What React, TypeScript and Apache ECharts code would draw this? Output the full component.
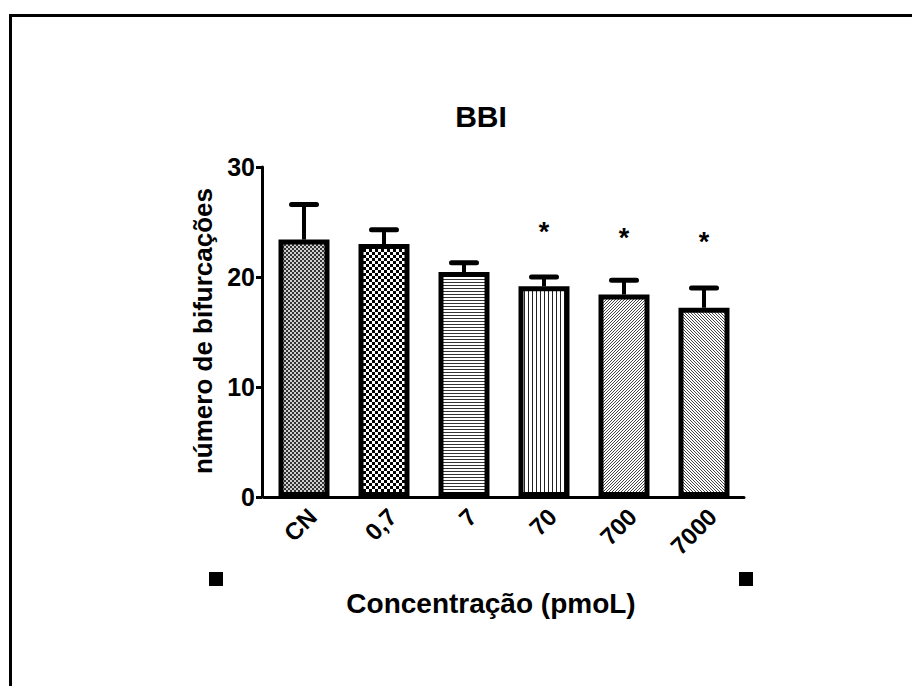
import React, { useEffect, useRef } from "react";
import * as echarts from "echarts";

const categories = ["CN", "0,7", "7", "70", "700", "7000"];
const means = [23.4, 23.0, 20.45, 19.15, 18.4, 17.2];
const errorTops = [26.6, 24.3, 21.3, 20.0, 19.7, 19.0];
const starLevels: (number | null)[] = [null, null, null, 24.4, 23.8, 23.5];
const patternKinds = ["fineChecker", "checker", "hLines", "vLines", "diagUp", "diagDown"];
const yMin = 0;
const yMax = 30;
const yInterval = 10;

const titleText = "BBI";
const yName = "número de bifurcações";
const xName = "Concentração (pmoL)";

function makePattern(kind: string) {
  const sizes: Record<string, number> = {
    fineChecker: 4,
    checker: 6,
    hLines: 3,
    vLines: 4,
    diagUp: 3,
    diagDown: 3,
  };
  const size = sizes[kind];
  const c = document.createElement("canvas");
  c.width = size;
  c.height = size;
  const ctx = c.getContext("2d")!;
  ctx.fillStyle = kind === "fineChecker" ? "#d0d0d0" : "#fff";
  ctx.fillRect(0, 0, size, size);
  for (let x = 0; x < size; x++) {
    for (let y = 0; y < size; y++) {
      let on = false;
      let col = "#000";
      if (kind === "fineChecker") { on = (Math.floor(x / 2) + Math.floor(y / 2)) % 2 === 0; col = "#333"; }
      if (kind === "checker") { on = (Math.floor(x / 3) + Math.floor(y / 3)) % 2 === 0; }
      if (kind === "hLines") { on = y === 0; col = "#333"; }
      if (kind === "vLines") { on = x === 0; col = "#222"; }
      if (kind === "diagUp") { on = (x + y) % size === size - 1; col = "#444"; }
      if (kind === "diagDown") { on = x === y; col = "#444"; }
      if (on) {
        ctx.fillStyle = col;
        ctx.fillRect(x, y, 1, 1);
      }
    }
  }
  return { image: c, repeat: "repeat", imageWidth: size, imageHeight: size } as any;
}

export default function App() {
  const ref = useRef<HTMLDivElement>(null);
  useEffect(() => {
    if (!ref.current) return;
    const chart = echarts.init(ref.current, null, { renderer: "svg" });
    const font = "'Liberation Sans', Arial, sans-serif";
    const barData = means.map((v, i) => ({
      value: v,
      itemStyle: { color: makePattern(patternKinds[i]) },
    }));
    const errData = means.map((v, i) => [i, v, errorTops[i]]);
    const starData: number[][] = [];
    starLevels.forEach((s, i) => {
      if (s !== null) starData.push([i, s]);
    });

    chart.setOption({
      animation: false,
      backgroundColor: "#fff",
      grid: { left: 264, top: 167, width: 480, height: 330, containLabel: false },
      xAxis: {
        type: "category",
        data: categories,
        boundaryGap: true,
        axisLine: { lineStyle: { color: "#000", width: 3 } },
        axisTick: { alignWithLabel: true, length: 9, lineStyle: { color: "#000", width: 3 } },
        axisLabel: {
          rotate: 45,
          margin: 7,
          verticalAlign: "top",
          color: "#000",
          fontSize: 24,
          fontWeight: "bold",
          fontFamily: font,
        },
        splitLine: { show: false },
      },
      yAxis: {
        type: "value",
        min: yMin,
        max: yMax,
        interval: yInterval,
        offset: 2,
        axisLine: { show: true, lineStyle: { color: "#000", width: 3 } },
        axisTick: { show: true, length: 6, lineStyle: { color: "#000", width: 3 } },
        axisLabel: {
          margin: 7,
          color: "#000",
          fontSize: 25,
          fontWeight: "bold",
          fontFamily: font,
        },
        splitLine: { show: false },
      },
      series: [
        {
          type: "custom",
          z: 1,
          data: errData,
          renderItem: (params: any, api: any) => {
            const x = api.value(0);
            const p0 = api.coord([x, api.value(1)]);
            const p1 = api.coord([x, api.value(2)]);
            return {
              type: "group",
              children: [
                {
                  type: "line",
                  shape: { x1: p0[0], y1: p0[1], x2: p1[0], y2: p1[1] },
                  style: { stroke: "#000", lineWidth: 4 },
                },
                {
                  type: "line",
                  shape: { x1: p1[0] - 12.5, y1: p1[1], x2: p1[0] + 12.5, y2: p1[1] },
                  style: { stroke: "#000", lineWidth: 5, lineCap: "round" },
                },
              ],
            };
          },
        },
        {
          type: "bar",
          z: 2,
          barWidth: 51,
          data: barData,
          itemStyle: { borderColor: "#000", borderWidth: 5 },
        },
        {
          type: "custom",
          z: 3,
          data: starData,
          renderItem: (params: any, api: any) => {
            const p = api.coord([api.value(0), api.value(1)]);
            return {
              type: "text",
              x: p[0],
              y: p[1] + 3,
              style: {
                text: "*",
                fill: "#000",
                font: `bold 27px ${font}`,
                textAlign: "center",
                textVerticalAlign: "middle",
              },
            };
          },
        },
      ],
      graphic: [
        {
          type: "line",
          shape: { x1: 10.5, y1: 15.5, x2: 912, y2: 15.5 },
          style: { stroke: "#000", lineWidth: 3 },
        },
        {
          type: "line",
          shape: { x1: 10.5, y1: 14, x2: 10.5, y2: 686 },
          style: { stroke: "#000", lineWidth: 3 },
        },
        {
          type: "text",
          x: 481,
          y: 116,
          style: {
            text: titleText,
            font: `bold 30px ${font}`,
            fill: "#000",
            textAlign: "center",
            textVerticalAlign: "middle",
          },
        },
        {
          type: "text",
          x: 203,
          y: 331,
          rotation: Math.PI / 2,
          style: {
            text: yName,
            font: `bold 26px ${font}`,
            fill: "#000",
            textAlign: "center",
            textVerticalAlign: "middle",
          },
        },
        {
          type: "text",
          x: 491,
          y: 603,
          style: {
            text: xName,
            font: `bold 28px ${font}`,
            fill: "#000",
            textAlign: "center",
            textVerticalAlign: "middle",
          },
        },
        { type: "rect", shape: { x: 209, y: 572, width: 14, height: 14 }, style: { fill: "#000" } },
        { type: "rect", shape: { x: 739, y: 572, width: 14, height: 14 }, style: { fill: "#000" } },
      ],
    });
    return () => chart.dispose();
  }, []);
  return (
    <div
      ref={ref}
      style={{ position: "absolute", left: 0, top: 0, width: 912, height: 686, background: "#fff" }}
    />
  );
}
